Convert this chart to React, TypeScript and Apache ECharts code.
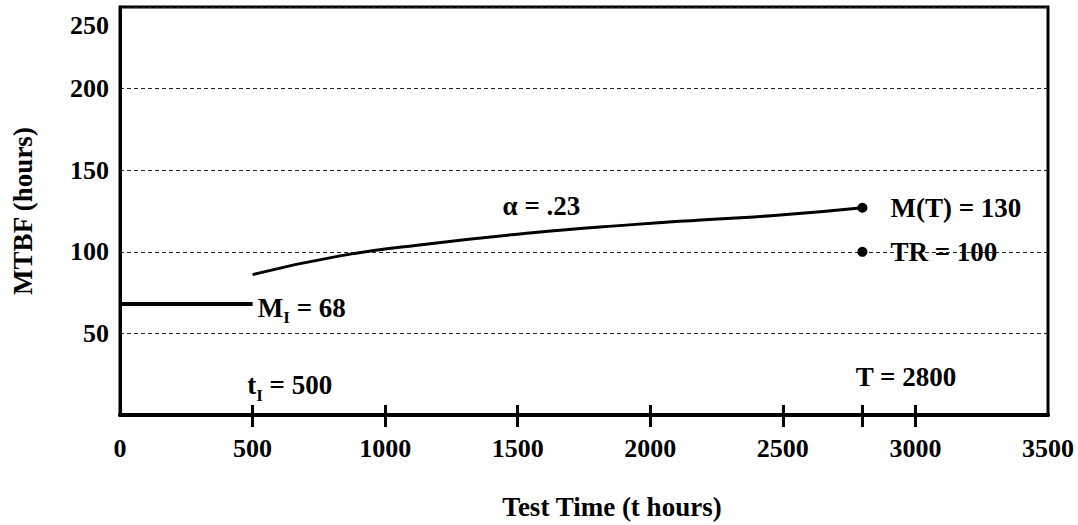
import React, { useEffect, useRef } from "react";
import * as echarts from "echarts";

const FONT = "Liberation Serif";

// x axis
const xMin = 0;
const xMax = 3500;
const xInterval = 500;
const xTickValues = [500, 1000, 1500, 2000, 2500, 2800, 3000];
const xLabelValues = [0, 500, 1000, 1500, 2000, 2500, 3000, 3500];

// y axis
const yMin = 0;
const yMax = 250;
const yInterval = 50;

// initial MTBF segment (M_I = 68 up to t_I = 500)
const initialT = [0, 500];
const initialV = [68, 68];

// growth curve
const curveT = [500, 830, 1170, 1545, 1920, 2190, 2490, 2800];
const curveV = [86, 97.5, 105, 111.5, 116.5, 119.5, 122.5, 127];

// end points
const pointNames = ["M(T) = 130", "TR = 100"];
const pointT = [2800, 2800];
const pointV = [127, 100];

// free annotations [t, value]
const annoTexts = ["α = .23", "{m|t}{s|I}{m| = 500}", "T = 2800", "{m|M}{s|I}{m| = 68}"];
const annoT = [1443, 480, 2775, 520];
const annoV = [128, 17.5, 23.5, 65];

const txt = { color: "#000", fontFamily: FONT, fontWeight: "bold" as const, fontSize: 27 };

const richSub = {
  m: { ...txt, verticalAlign: "bottom", padding: [0, 0, 5, 0] },
  s: { ...txt, fontSize: 17, verticalAlign: "bottom", padding: [18, 0, 0, 0] },
};

export default function App() {
  const ref = useRef<HTMLDivElement>(null);
  useEffect(() => {
    if (!ref.current) return;
    const chart = echarts.init(ref.current, null, { renderer: "svg" });
    const option: any = {
      animation: false,
      backgroundColor: "#fff",
      textStyle: { fontFamily: FONT },
      grid: {
        left: 120,
        right: 30,
        top: 7,
        bottom: 107,
        show: true,
        borderColor: "#000",
        borderWidth: 3,
        backgroundColor: "transparent",
      },
      xAxis: [
        {
          type: "value",
          min: xMin,
          max: xMax,
          interval: xInterval,
          position: "bottom",
          name: "Test Time (t hours)",
          nameLocation: "middle",
          nameGap: 78,
          nameTextStyle: { ...txt, padding: [0, 0, 0, 56] },
          axisLine: { show: true, lineStyle: { color: "#000", width: 4 } },
          axisTick: {
            show: true,
            customValues: xTickValues,
            length: 12,
            lineStyle: { color: "#000", width: 3 },
          },
          axisLabel: {
            customValues: xLabelValues,
            margin: 20,
            ...txt,
            fontSize: 26,
            formatter: (v: number) => String(v),
          },
          splitLine: { show: false },
        },
        {
          type: "value",
          min: xMin,
          max: xMax,
          interval: xInterval,
          position: "bottom",
          axisLine: { show: false },
          axisTick: {
            show: true,
            inside: true,
            customValues: xTickValues,
            length: 10,
            lineStyle: { color: "#000", width: 3 },
          },
          axisLabel: { show: false },
          splitLine: { show: false },
        },
      ],
      yAxis: {
        type: "value",
        min: yMin,
        max: yMax,
        interval: yInterval,
        name: "MTBF (hours)",
        nameLocation: "middle",
        nameGap: 84,
        nameTextStyle: { ...txt, padding: [0, 0, 0, 0] },
        axisLine: { show: true, lineStyle: { color: "#000", width: 3 } },
        axisTick: { show: false },
        axisLabel: {
          margin: 11,
          ...txt,
          fontSize: 26,
          formatter: (v: number) => (v === 0 ? "" : v === 250 ? "{t|250}" : String(v)),
          rich: { t: { ...txt, fontSize: 26, padding: [36, 0, 0, 0] } },
        },
        splitLine: {
          show: true,
          lineStyle: { color: "#222", width: 1, type: [4, 3] },
        },
      },
      series: [
        {
          type: "line",
          data: initialT.map((t, i) => [t, initialV[i]]),
          showSymbol: false,
          lineStyle: { color: "#000", width: 4 },
          z: 5,
        },
        {
          type: "line",
          data: curveT.map((t, i) => [t, curveV[i]]),
          smooth: true,
          showSymbol: false,
          lineStyle: { color: "#000", width: 3 },
          z: 5,
        },
        {
          type: "scatter",
          data: pointT.map((t, i) => ({ value: [t, pointV[i]], name: pointNames[i] })),
          symbolSize: 10,
          itemStyle: { color: "#000", opacity: 1 },
          label: {
            show: true,
            position: "right",
            distance: 23,
            formatter: (p: any) => p.name,
            ...txt,
          },
          z: 6,
        },
        {
          type: "scatter",
          data: annoT.map((t, i) => ({ value: [t, annoV[i]], name: annoTexts[i] })),
          symbolSize: 0,
          itemStyle: { color: "#000", opacity: 1 },
          label: {
            show: true,
            position: "inside",
            align: "left",
            verticalAlign: "middle",
            formatter: (p: any) => p.name,
            ...txt,
            rich: richSub,
          },
          z: 6,
        },
      ],
    };
    chart.setOption(option);
    return () => chart.dispose();
  }, []);
  return (
    <div
      ref={ref}
      style={{ position: "fixed", left: 0, top: 0, width: 1078, height: 525 }}
    />
  );
}
